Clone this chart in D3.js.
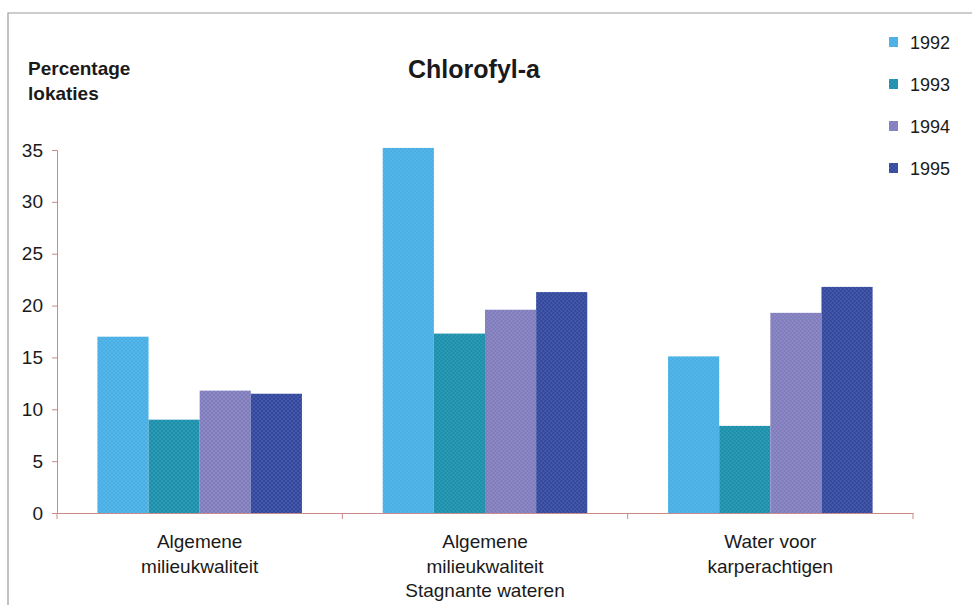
<!DOCTYPE html>
<html>
<head>
<meta charset="utf-8">
<script src="https://cdn.jsdelivr.net/npm/d3@7"></script>
<style>
  body { margin: 0; background: #fff; }
  text { font-family: "Liberation Sans", Arial, sans-serif; fill: #1a1a1a; }
</style>
</head>
<body>
<div class="myChart"></div>
<script>
//Data
var categories = [
    ["Algemene", "milieukwaliteit"],
    ["Algemene", "milieukwaliteit", "Stagnante wateren"],
    ["Water voor", "karperachtigen"]
];
var years = ["1992", "1993", "1994", "1995"];
var values1992 = [17.0, 35.2, 15.1];
var values1993 = [9.0, 17.3, 8.4];
var values1994 = [11.8, 19.6, 19.3];
var values1995 = [11.5, 21.3, 21.8];
var yTicks = [0, 5, 10, 15, 20, 25, 30, 35];
var colors = ["#45aee4", "#1a8fac", "#7f7cbd", "#31479d"];

var series = [values1992, values1993, values1994, values1995];

//Canvas Size
var width = 972;
var height = 605;
var margin = {top: 150, left: 57, right: 59, bottom: 92};

var svg = d3.select(".myChart").append("svg")
    .attr("width", width)
    .attr("height", height);

//halftone-ish texture per colour
var defs = svg.append("defs");
colors.forEach(function(c, i) {
    var p = defs.append("pattern")
        .attr("id", "pat" + i)
        .attr("patternUnits", "userSpaceOnUse")
        .attr("width", 4)
        .attr("height", 4);
    p.append("rect").attr("width", 4).attr("height", 4).attr("fill", c);
    p.append("circle").attr("cx", 1).attr("cy", 1).attr("r", 0.8)
        .attr("fill", "#fff").attr("opacity", 0.22);
    p.append("circle").attr("cx", 3).attr("cy", 3).attr("r", 0.8)
        .attr("fill", "#fff").attr("opacity", 0.22);
});

//frame
svg.append("path")
    .attr("d", "M8," + height + "V13H" + width)
    .attr("fill", "none")
    .attr("stroke", "#9a9a9a")
    .attr("stroke-width", 1.2);

//Scales
var yScale = d3.scaleLinear()
    .domain([0, 35])
    .range([height - margin.bottom, margin.top]);
var xScale = d3.scaleBand()
    .domain(d3.range(categories.length))
    .range([margin.left, width - margin.right]);
var xInner = d3.scaleBand()
    .domain(years)
    .range([0, xScale.bandwidth()])
    .paddingOuter(0.79);

//Bars
var groups = svg.selectAll("g.grp")
    .data(categories)
    .enter()
    .append("g")
    .attr("class", "grp")
    .attr("transform", function(d, i) {return "translate(" + xScale(i) + ",0)";});

groups.selectAll("rect")
    .data(function(d, i) {return series.map(function(s, j) {return {year: years[j], v: s[i], k: j};});})
    .enter()
    .append("rect")
    .attr("x", function(d) {return xInner(d.year);})
    .attr("width", xInner.bandwidth())
    .attr("y", function(d) {return yScale(d.v);})
    .attr("height", function(d) {return yScale(0) - yScale(d.v);})
    .attr("fill", function(d) {return "url(#pat" + d.k + ")";});

//Axes
var axisColor = "#c98a8a";
var yAxis = svg.append("g")
    .attr("transform", "translate(" + margin.left + ",0)")
    .call(d3.axisLeft(yScale).tickValues(yTicks).tickSize(5).tickPadding(9));
var xAxis = svg.append("g")
    .attr("transform", "translate(0," + yScale(0) + ")")
    .call(d3.axisBottom(xScale).tickValues([]).tickSizeOuter(0));

[yAxis, xAxis].forEach(function(a) {
    a.select(".domain").attr("stroke", axisColor);
    a.selectAll(".tick line").attr("stroke", axisColor);
});
yAxis.selectAll(".tick text")
    .style("font-size", "19px")
    .attr("fill", "#1a1a1a");

//x ticks at band edges
var edges = d3.range(categories.length + 1).map(function(i) {
    return i < categories.length ? xScale(i) : xScale(i - 1) + xScale.bandwidth();
});
xAxis.selectAll("line.edge")
    .data(edges)
    .enter()
    .append("line")
    .attr("x1", function(d) {return d;})
    .attr("x2", function(d) {return d;})
    .attr("y1", 0)
    .attr("y2", 6)
    .attr("stroke", axisColor);

//Category labels
groups.append("text")
    .attr("text-anchor", "middle")
    .style("font-size", "19px")
    .selectAll("tspan")
    .data(function(d) {return d;})
    .enter()
    .append("tspan")
    .attr("x", xScale.bandwidth() / 2)
    .attr("y", function(d, i) {return 548 + i * 24.5;})
    .text(function(d) {return d;});

//Title
svg.append("text")
    .attr("x", 474)
    .attr("y", 78)
    .attr("text-anchor", "middle")
    .style("font-size", "25px")
    .style("font-weight", "bold")
    .text("Chlorofyl-a");

//Y label
svg.append("text")
    .attr("x", 28)
    .attr("y", 75)
    .style("font-size", "19px")
    .style("font-weight", "bold")
    .attr("fill", "#2a2a2a")
    .text("Percentage");
svg.append("text")
    .attr("x", 28)
    .attr("y", 100)
    .style("font-size", "19px")
    .style("font-weight", "bold")
    .attr("fill", "#2a2a2a")
    .text("lokaties");

//Legend
var legend = svg.selectAll("g.leg")
    .data(years)
    .enter()
    .append("g")
    .attr("class", "leg")
    .attr("transform", function(d, i) {return "translate(889," + (49 + i * 42) + ")";});
legend.append("rect")
    .attr("x", 0)
    .attr("y", -12)
    .attr("width", 9)
    .attr("height", 10)
    .attr("fill", function(d, i) {return "url(#pat" + i + ")";});
legend.append("text")
    .attr("x", 21)
    .attr("y", 0)
    .style("font-size", "18px")
    .text(function(d) {return d;});
</script>
</body>
</html>
